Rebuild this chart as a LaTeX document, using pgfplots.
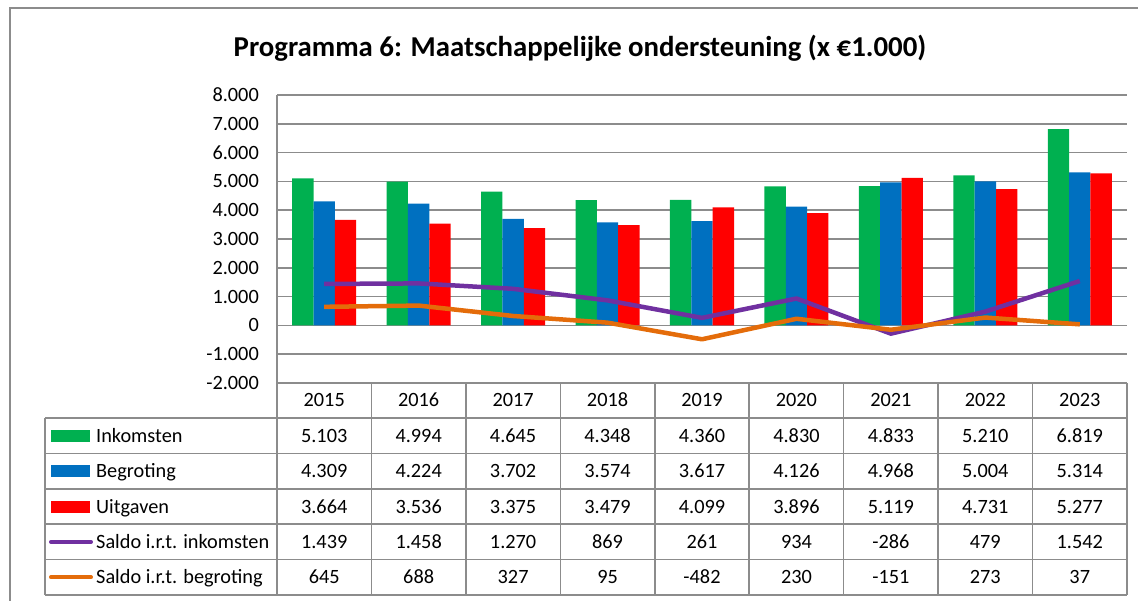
\documentclass[border=0pt]{standalone}
\usepackage{pgfplots}
\pgfplotsset{compat=1.18}
\usepackage{pgfplotstable}
\usepackage{fontspec}
\setmainfont{Carlito}
\definecolor{cgreen}{HTML}{00B050}
\definecolor{cblue}{HTML}{0070C0}
\definecolor{cred}{HTML}{FF0000}
\definecolor{cpurple}{HTML}{7030A0}
\definecolor{corange}{HTML}{E46C0A}
\definecolor{cgrid}{HTML}{8C8C8C}

\pgfplotstableread{
x year ink beg uit sink sbeg
0 2015 5103 4309 3664 1439 645
1 2016 4994 4224 3536 1458 688
2 2017 4645 3702 3375 1270 327
3 2018 4348 3574 3479 869 95
4 2019 4360 3617 4099 261 -482
5 2020 4830 4126 3896 934 230
6 2021 4833 4968 5119 -286 -151
7 2022 5210 5004 4731 479 273
8 2023 6819 5314 5277 1542 37
}\data

\begin{document}
\begin{tikzpicture}
\useasboundingbox (0pt,0pt) rectangle (1138pt,-601pt);
\fontsize{20.3}{24}\selectfont
% outer border
\draw[cgrid, line width=2pt] (10pt,-610pt) -- (10pt,-8pt) -- (1145pt,-8pt);
\node[font=\fontsize{28.8}{32}\selectfont\bfseries, anchor=base] at (580pt,-57pt) {Programma 6: Maatschappelijke ondersteuning (x €1.000)};
\begin{axis}[at={(277pt,-383pt)}, anchor=south west, scale only axis,
  width=850pt, height=288pt,
  xmin=-0.5, xmax=8.5, ymin=-2000, ymax=8000, ytick distance=1000, xtick=\empty,
  ymajorgrids, grid style={cgrid, line width=1.5pt},
  axis line style={draw=none}, major tick length=0pt,
  scaled y ticks=false,
  yticklabel style={font=\fontsize{20.3}{24}\selectfont, anchor=east, inner sep=0pt, xshift=-18pt,
    /pgf/number format/.cd, fixed, 1000 sep={.}, assume math mode=true},
  clip=false]
\addplot[ybar, bar width=0.226, bar shift=-0.226, draw=none, fill=cgreen] table[x=x,y=ink]{\data};
\addplot[ybar, bar width=0.226, bar shift=0, draw=none, fill=cblue] table[x=x,y=beg]{\data};
\addplot[ybar, bar width=0.226, bar shift=0.226, draw=none, fill=cred] table[x=x,y=uit]{\data};
\addplot[sharp plot, no marks, cpurple, line width=4.5pt, line join=round] table[x=x,y=sink]{\data};
\addplot[sharp plot, no marks, corange, line width=4.5pt, line join=round] table[x=x,y=sbeg]{\data};
\end{axis}
% table grid
\draw[cgrid, line width=1.5pt] (277pt,-95pt) -- (277pt,-595pt);
\foreach \k in {1,...,9} {
  \pgfmathsetmacro\xx{277+\k*94.444}
  \draw[cgrid, line width=1.5pt] (\xx pt,-383pt) -- (\xx pt,-595pt);
}
\draw[cgrid, line width=1.5pt] (45pt,-418pt) -- (45pt,-595pt);
\foreach \yy in {418,453.4,488.8,524.2,559.6,595} {
  \draw[cgrid, line width=1.5pt] (45pt,-\yy pt) -- (1127pt,-\yy pt);
}
% years
\foreach \k in {0,...,8} {
  \pgfmathsetmacro\xx{277+(\k+0.5)*94.444}
  \pgfplotstablegetelem{\k}{year}\of\data
  \node[anchor=base, inner sep=0pt] at (\xx pt,-407pt) {\pgfplotsretval};
}
% values
\foreach \col/\r in {ink/1,beg/2,uit/3,sink/4,sbeg/5} {
  \foreach \k in {0,...,8} {
    \pgfmathsetmacro\xx{277+(\k+0.5)*94.444}
    \pgfmathsetmacro\yy{418+(\r-0.5)*35.4+6.5}
    \pgfplotstablegetelem{\k}{\col}\of\data
    \node[anchor=base, inner sep=0pt] at (\xx pt,-\yy pt)
      {\pgfmathprintnumber[fixed,precision=0,1000 sep={.},assume math mode=true]{\pgfplotsretval}};
  }
}
% legend keys
\fill[cgreen] (51pt,-429.7pt) rectangle (90pt,-441.7pt);
\fill[cblue] (51pt,-465.1pt) rectangle (90pt,-477.1pt);
\fill[cred] (51pt,-500.5pt) rectangle (90pt,-512.5pt);
\draw[cpurple, line width=4pt, line cap=round] (51pt,-541.9pt) -- (91pt,-541.9pt);
\draw[corange, line width=4pt, line cap=round] (51pt,-577.3pt) -- (91pt,-577.3pt);
\node[anchor=base west, inner sep=0pt] at (96pt,-442.2pt) {Inkomsten};
\node[anchor=base west, inner sep=0pt] at (96pt,-477.6pt) {Begroting};
\node[anchor=base west, inner sep=0pt] at (96pt,-513pt) {Uitgaven};
\node[anchor=base west, inner sep=0pt] at (96pt,-548.4pt) {Saldo i.r.t. inkomsten};
\node[anchor=base west, inner sep=0pt] at (96pt,-583.8pt) {Saldo i.r.t. begroting};
\end{tikzpicture}
\end{document}
